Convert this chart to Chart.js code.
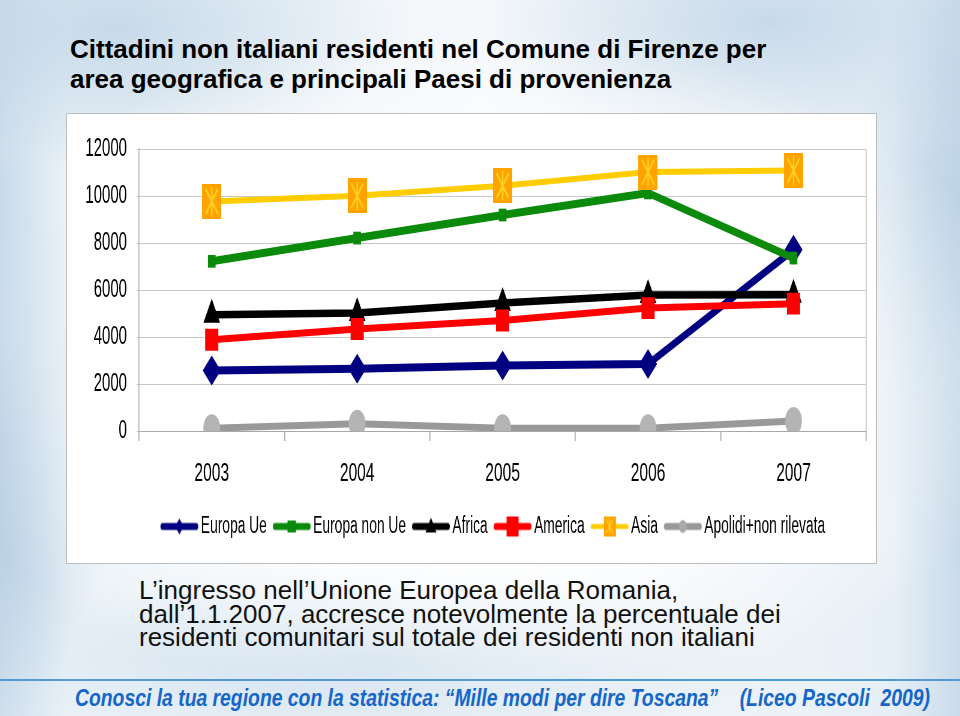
<!DOCTYPE html>
<html>
<head>
<meta charset="utf-8">
<script src="https://cdn.jsdelivr.net/npm/chart.js@4.4.1/dist/chart.umd.min.js"></script>
<style>
  html, body { margin: 0; padding: 0; width: 960px; height: 716px; overflow: hidden; }
  body {
    position: relative;
    font-family: "Liberation Sans", Arial, sans-serif;
    background:
      radial-gradient(ellipse 58% 48% at 50% 52%, rgba(255,255,255,1) 0%, rgba(255,255,255,0.85) 55%, rgba(255,255,255,0) 100%),
      radial-gradient(ellipse 30% 20% at 12% 4%, rgba(190,212,230,0.8) 0%, rgba(190,212,230,0) 100%),
      radial-gradient(ellipse 30% 18% at 80% 3%, rgba(185,208,228,0.7) 0%, rgba(185,208,228,0) 100%),
      radial-gradient(ellipse 12% 40% at 0% 60%, rgba(170,198,222,0.9) 0%, rgba(170,198,222,0) 100%),
      radial-gradient(ellipse 14% 40% at 100% 40%, rgba(180,205,226,0.8) 0%, rgba(180,205,226,0) 100%),
      radial-gradient(ellipse 40% 14% at 40% 92%, rgba(190,212,230,0.7) 0%, rgba(190,212,230,0) 100%),
      linear-gradient(90deg, #cddeec 0%, #e9f1f7 7%, #f5f8fb 50%, #e7eff6 93%, #c9dbea 100%);
  }
  .title {
    position: absolute; left: 70px; top: 34px;
    font-size: 26px; line-height: 30px; font-weight: bold; color: #000;
    white-space: nowrap;
  }
  #panel {
    position: absolute; left: 67px; top: 114px; width: 809px; height: 449px;
    background: #fff; box-shadow: 0 0 0 1px #bdbdbd; overflow: hidden;
  }
  #chart { position: absolute; left: 0; top: 0; transform: scaleX(0.6); transform-origin: 0 0; }
  .caption {
    position: absolute; left: 139px; top: 579px;
    font-size: 26px; line-height: 23.5px; color: #111; white-space: nowrap;
  }
  .rule { position: absolute; left: 0; top: 679px; width: 960px; height: 2px; background: #4f9bd8; }
  #footer {
    position: absolute; left: 75px; top: 684px;
    font-size: 23px; line-height: 28px; font-weight: bold; font-style: italic;
    color: #1566c9; white-space: pre; transform-origin: 0 0;
  }
</style>
</head>
<body>
<div class="title">Cittadini non italiani residenti nel Comune di Firenze per<br>area geografica e principali Paesi di provenienza</div>

<div id="panel"><canvas id="chart" width="1348" height="449"></canvas></div>

<div class="caption">L’ingresso nell’Unione Europea della Romania,<br>dall’1.1.2007, accresce notevolmente la percentuale dei<br>residenti comunitari sul totale dei residenti non italiani</div>

<div class="rule"></div>
<div id="footer">Conosci la tua regione con la statistica: “Mille modi per dire Toscana”    (Liceo Pascoli  2009)</div>

<script>
// chart data
const years = ['2003', '2004', '2005', '2006', '2007'];
const seriesNames = ['Europa Ue', 'Europa non Ue', 'Africa', 'America', 'Asia', 'Apolidi+non rilevata'];
const europaUe = [2570, 2650, 2790, 2850, 7710];
const europaNonUe = [7220, 8210, 9190, 10130, 7360];
const africa = [4950, 5020, 5450, 5790, 5800];
const america = [3880, 4340, 4700, 5230, 5420];
const asia = [9770, 10010, 10440, 11020, 11090];
const apolidi = [120, 310, 120, 120, 430];
const yTicks = [0, 2000, 4000, 6000, 8000, 10000, 12000];

const FONT = '"Liberation Sans", Arial, sans-serif';

// the canvas is drawn wide and squeezed by 0.6, like the original picture
function makeCanvas(w, h) {
  const c = document.createElement('canvas');
  c.width = w; c.height = h;
  return c;
}

function asiaMarker(w, h, lw) {
  const c = makeCanvas(w, h);
  const g = c.getContext('2d');
  g.fillStyle = '#ffa300';
  g.fillRect(0, 0, w, h);
  g.strokeStyle = '#ffd42a';
  g.lineWidth = lw;
  g.beginPath();
  g.moveTo(w * 0.18, h * 0.14); g.lineTo(w * 0.82, h * 0.86);
  g.moveTo(w * 0.82, h * 0.14); g.lineTo(w * 0.18, h * 0.86);
  g.moveTo(w / 2, h * 0.08); g.lineTo(w / 2, h * 0.92);
  g.stroke();
  return c;
}

function legendIcon(color, lw, mark) {
  const c = makeCanvas(65, 36);
  const g = c.getContext('2d');
  g.strokeStyle = color;
  g.lineWidth = lw;
  g.lineCap = 'round';
  g.beginPath();
  g.moveTo(lw / 2 + 1, 18);
  g.lineTo(65 - lw / 2 - 1, 18);
  g.stroke();
  mark(g, 32.5, 18);
  return c;
}

const legendIcons = [
  legendIcon('#000080', 7, (g, x, y) => {
    g.fillStyle = '#000080';
    g.beginPath(); g.moveTo(x - 7, y); g.lineTo(x, y - 8); g.lineTo(x + 7, y); g.lineTo(x, y + 8); g.fill();
  }),
  legendIcon('#0b8a0b', 7, (g, x, y) => {
    g.fillStyle = '#0b8a0b'; g.fillRect(x - 7, y - 6, 14, 12);
  }),
  legendIcon('#000000', 7, (g, x, y) => {
    g.fillStyle = '#000'; g.beginPath(); g.moveTo(x, y - 9); g.lineTo(x + 9, y + 6); g.lineTo(x - 9, y + 6); g.fill();
  }),
  legendIcon('#ff0000', 7, (g, x, y) => {
    g.fillStyle = '#ff0000'; g.fillRect(x - 10, y - 10, 20, 20);
  }),
  legendIcon('#ffcc00', 5, (g, x, y) => {
    g.drawImage(asiaMarker(20, 20, 1.6), x - 10, y - 10);
  }),
  legendIcon('#999999', 7, (g, x, y) => {
    g.fillStyle = '#aaaaaa'; g.beginPath(); g.arc(x, y, 6.5, 0, Math.PI * 2); g.fill();
  })
];

const seriesData = [europaUe, europaNonUe, africa, america, asia, apolidi];
const lineColors = ['#000080', '#0b8a0b', '#000000', '#ff0000', '#ffcc00', '#999999'];
const markColors = ['#000080', '#0b8a0b', '#000000', '#ff0000', '#ffa300', '#b4b4b4'];
const lineWidths = [8, 8, 7.5, 7, 6, 7];
const markStyles = ['rectRot', 'rect', 'triangle', 'rect', asiaMarker(32, 35, 2.4), 'circle'];
const markRadius = [15, 9, 16, 15.5, 16, 14];

const datasets = seriesNames.map((name, i) => ({
  label: name,
  data: seriesData[i],
  borderColor: lineColors[i],
  backgroundColor: markColors[i],
  borderWidth: lineWidths[i],
  pointStyle: markStyles[i],
  pointRadius: markRadius[i],
  pointBackgroundColor: markColors[i],
  pointBorderWidth: 0,
  tension: 0,
  order: seriesNames.length - 1 - i
}));

new Chart(document.getElementById('chart'), {
  type: 'line',
  data: { labels: years, datasets },
  options: {
    responsive: false,
    animation: false,
    devicePixelRatio: 1,
    layout: { padding: { left: 0, right: 15, top: 35, bottom: 15 } },
    plugins: {
      tooltip: { enabled: false },
      legend: {
        position: 'bottom',
        fullSize: false,
        labels: {
          usePointStyle: true,
          pointStyleWidth: 48.6,
          padding: 17.2,
          color: '#000',
          font: { family: FONT, size: 23 },
          // trailing spaces on the last item nudge the centred row a little left, as in the slide
          generateLabels: chart => chart.data.datasets.map((ds, i, all) => ({
            text: i === all.length - 1 ? ds.label + '    ' : ds.label,
            pointStyle: legendIcons[i],
            fillStyle: 'transparent',
            strokeStyle: 'transparent',
            lineWidth: 0,
            hidden: false,
            datasetIndex: i
          }))
        }
      }
    },
    scales: {
      x: {
        offset: true,
        grid: {
          offset: true,
          color: ctx => ctx.type === 'tick' ? 'transparent' : '#c4c4c4',
          lineWidth: 1.7,
          tickLength: 10,
          tickColor: '#a8a8a8',
          tickWidth: 1.7
        },
        border: { color: '#a8a8a8', width: 1 },
        ticks: { padding: 17.4, color: '#000', font: { family: FONT, size: 26 } },
        afterFit: s => { s.height = 66.8; }
      },
      y: {
        min: 0,
        max: 12000,
        afterBuildTicks: s => { s.ticks = yTicks.map(v => ({ value: v })); },
        grid: { color: '#c8c8c8', lineWidth: 1, tickLength: 4 },
        border: { color: '#b4b4b4', width: 1.7 },
        ticks: { padding: 16, color: '#000', font: { family: FONT, size: 25 }, callback: v => String(v) },
        afterFit: s => { s.width = 120; }
      }
    }
  }
});

// squeeze the footer line to the width it has in the slide
const footer = document.getElementById('footer');
const fw = footer.getBoundingClientRect().width;
footer.style.transform = `scaleX(${855 / fw})`;
</script>
</body>
</html>
